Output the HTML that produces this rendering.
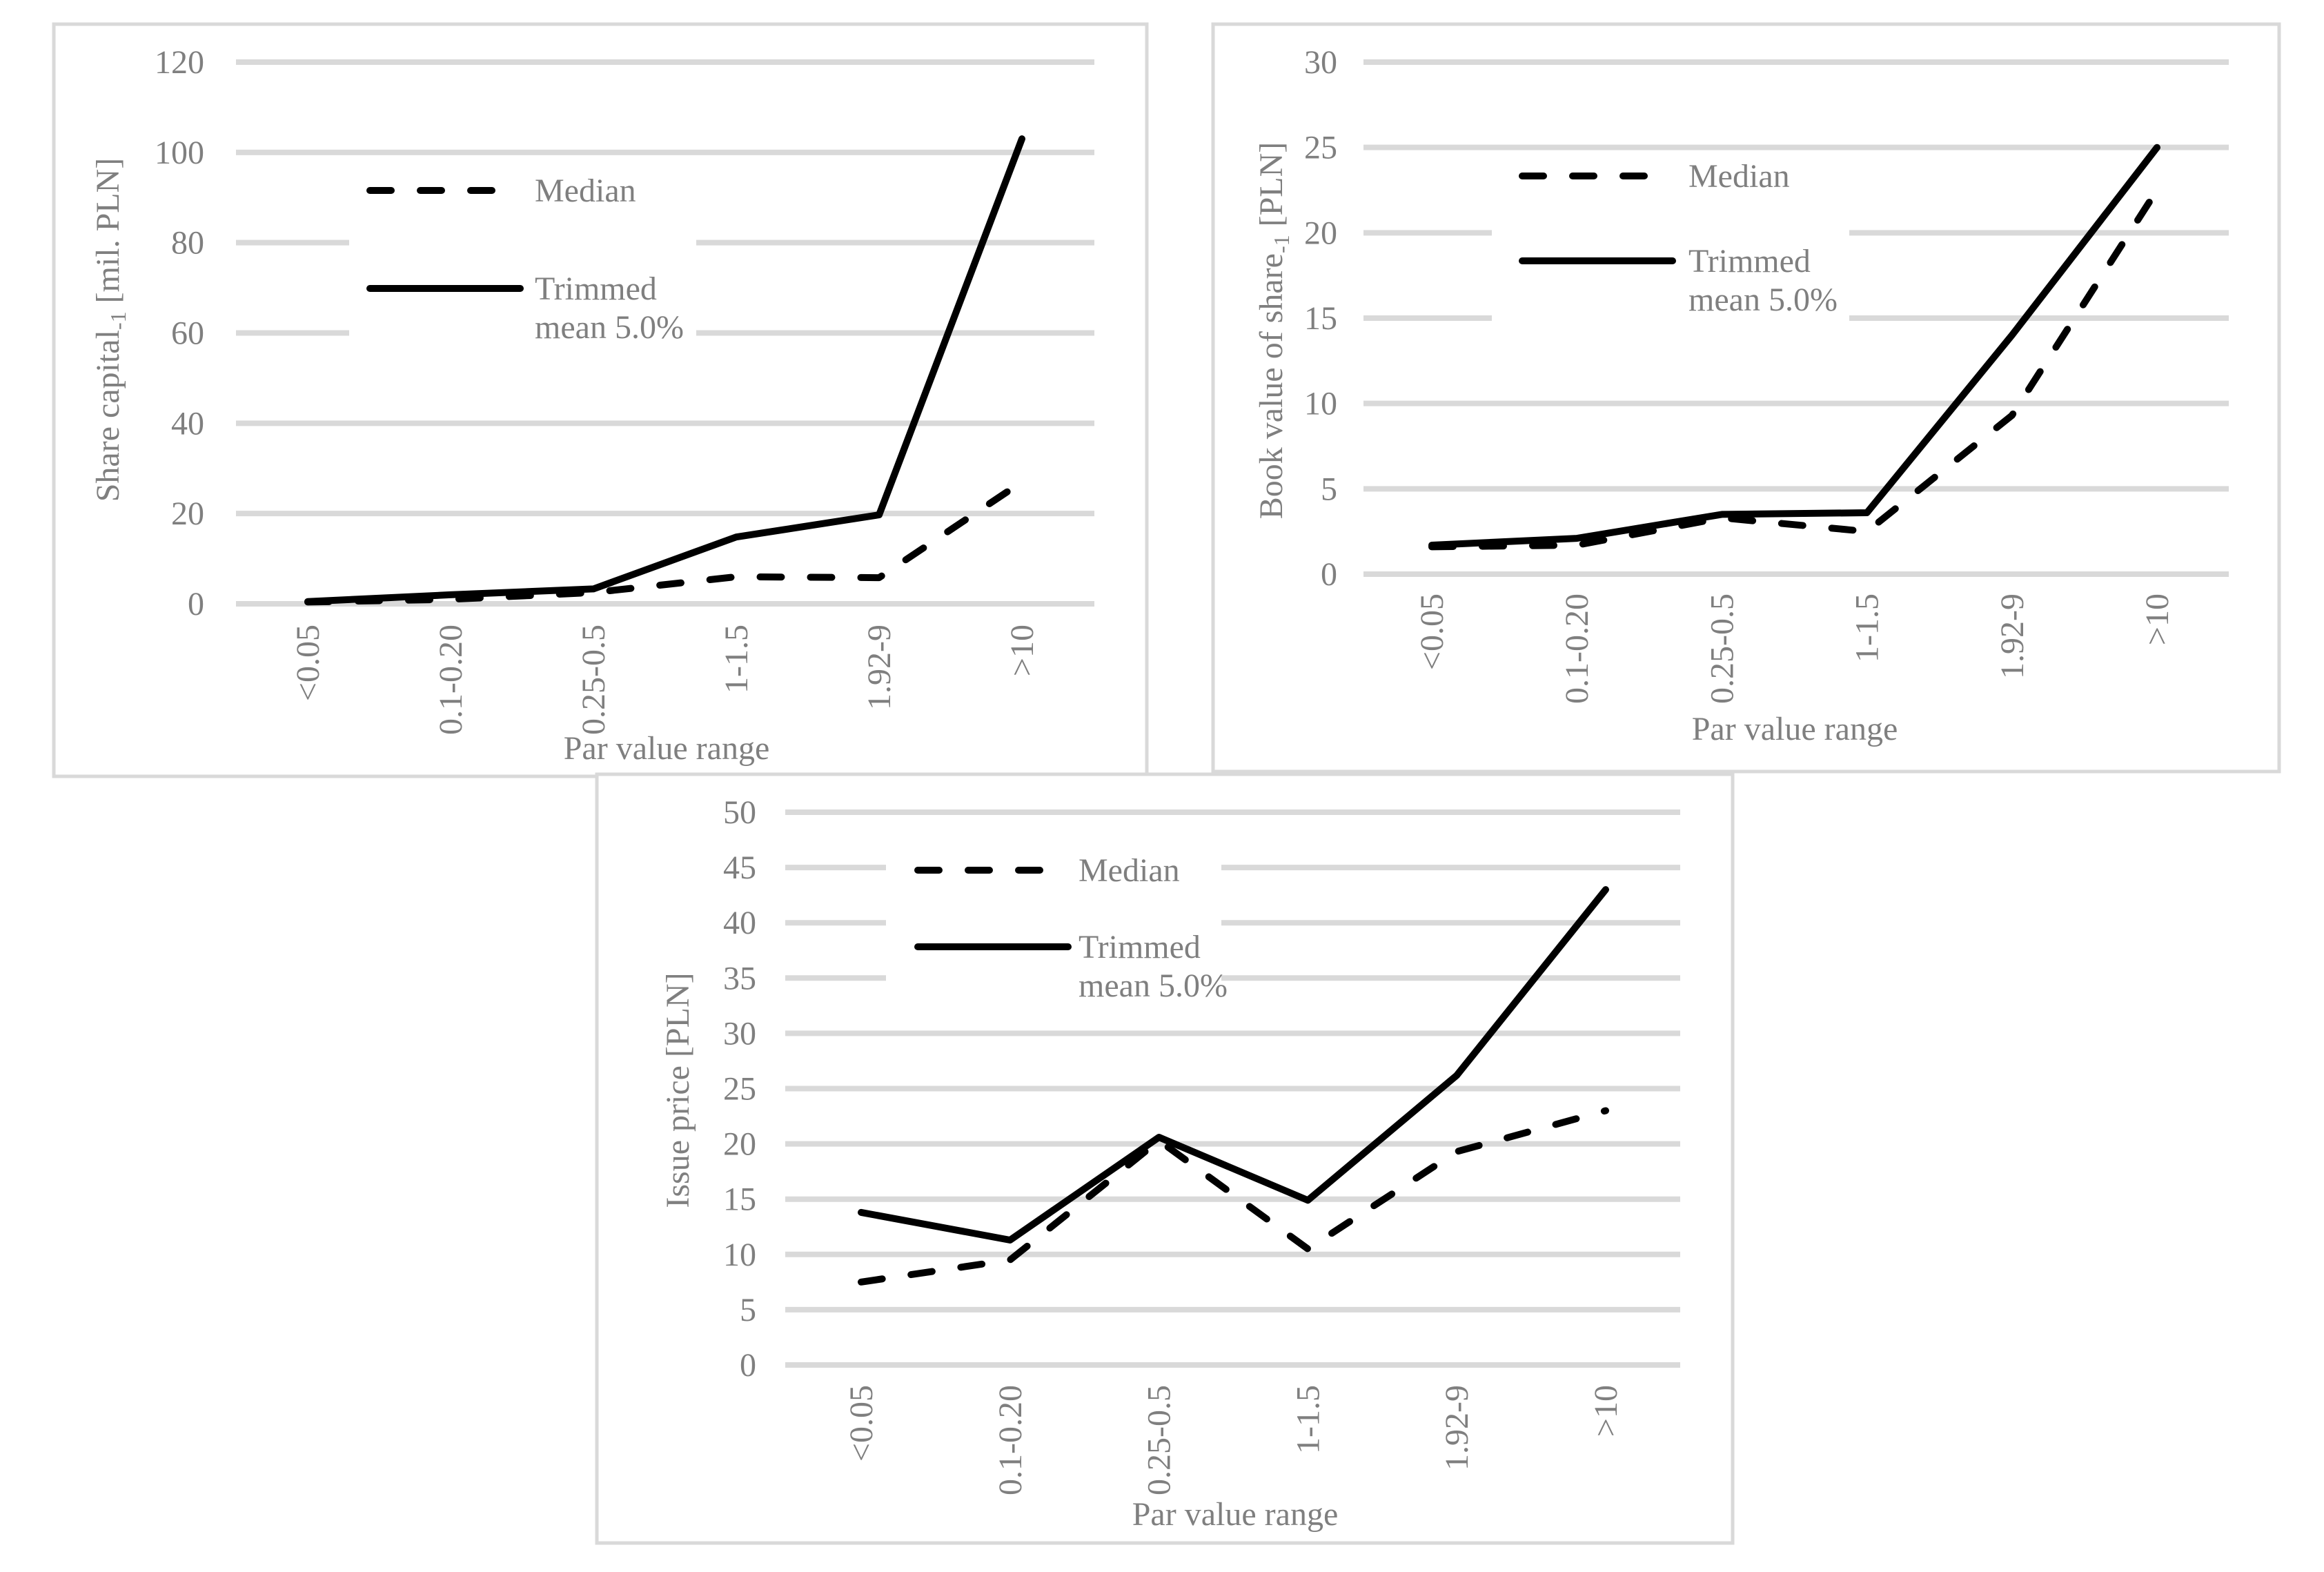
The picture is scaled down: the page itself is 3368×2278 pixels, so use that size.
<!DOCTYPE html>
<html><head><meta charset="utf-8"><style>
html,body{margin:0;padding:0;background:#fff;}
svg{display:block;}
text{font-family:"Liberation Serif","Times New Roman",serif;fill:#7f7f7f;}
</style></head><body>
<svg id="root" width="3368" height="2278" viewBox="0 0 3368 2278" xmlns="http://www.w3.org/2000/svg"></svg>
<script>
const categories = ["<0.05","0.1-0.20","0.25-0.5","1-1.5","1.92-9",">10"];
const shareMedian = [0.4, 1.0, 2.5, 6.0, 5.8, 27];
const shareTrimmed = [0.5, 2.0, 3.3, 14.8, 19.7, 103];
const shareTicks = [0,20,40,60,80,100,120];
const bookMedian = [1.6, 1.7, 3.3, 2.5, 9.3, 22.5];
const bookTrimmed = [1.7, 2.1, 3.5, 3.6, 14.0, 25.0];
const bookTicks = [0,5,10,15,20,25,30];
const issueMedian = [7.5, 9.5, 20.3, 10.5, 19.3, 23.0];
const issueTrimmed = [13.8, 11.3, 20.6, 14.9, 26.2, 43.0];
const issueTicks = [0,5,10,15,20,25,30,35,40,45,50];

const NS="http://www.w3.org/2000/svg";
const root=document.getElementById('root');
function mk(tag,attrs,parent){const e=document.createElementNS(NS,tag);for(const k in attrs)e.setAttribute(k,attrs[k]);(parent||root).appendChild(e);return e;}

function drawChart(cfg, med, trim, ticks){
  const g=mk('g',{});
  
  
  const fr=mk('rect',{x:cfg.fx,y:cfg.fy,width:cfg.fw,height:cfg.fh,fill:'#fff',stroke:'#d9d9d9','stroke-width':5},g);
  
  
  const maxV=ticks[ticks.length-1];
  const yS=v=>cfg.y0+(cfg.yTop-cfg.y0)*v/maxV;
  const xS=i=>cfg.c0+(cfg.c1-cfg.c0)*i/(categories.length-1);
  ticks.forEach(t=>{
    const l=mk('line',{x1:cfg.gx0,x2:cfg.gx1,y1:yS(t),y2:yS(t),stroke:'#d9d9d9','stroke-width':8},g);
    
    
    const tx=mk('text',{x:cfg.tickR,y:yS(t)+16,'text-anchor':'end','font-size':48},g);
    tx.textContent=t;
    
    
  });
  const lb=mk('rect',{x:cfg.lbx0,y:cfg.lby0,width:cfg.lbx1-cfg.lbx0,height:cfg.lby1-cfg.lby0,fill:'#fff'},g);
  
  
  categories.forEach((c,i)=>{
    const x=xS(i)+16, y=cfg.xlTop;
    const tx=mk('text',{x:x,y:y,'text-anchor':'end','font-size':48,transform:`rotate(-90 ${x} ${y})`},g);
    tx.textContent=c;
    
    
  });
  const xt=mk('text',{x:cfg.xtx,y:cfg.xty,'text-anchor':'middle','font-size':48},g);
  xt.textContent='Par value range';
  
  
  const yt=mk('text',{x:cfg.ytx,y:cfg.yty,'text-anchor':'middle','font-size':48,transform:`rotate(-90 ${cfg.ytx} ${cfg.yty})`},g);
  yt.innerHTML=cfg.ytitle;
  
  
  const pts=arr=>arr.map((v,i)=>xS(i).toFixed(1)+','+yS(v).toFixed(1)).join(' ');
  const pm=mk('polyline',{points:pts(med),fill:'none',stroke:'#000','stroke-width':10,'stroke-dasharray':'31 42','stroke-linecap':'round','stroke-linejoin':'round'},g);
  
  
  const pt=mk('polyline',{points:pts(trim),fill:'none',stroke:'#000','stroke-width':10,'stroke-linecap':'round','stroke-linejoin':'round'},g);
  
  
  const L=cfg.leg;
  const l1=mk('line',{x1:L.x,x2:L.x+188,y1:L.y1,y2:L.y1,stroke:'#000','stroke-width':10,'stroke-dasharray':'31 42','stroke-linecap':'round'},g);
  
  
  const t1=mk('text',{x:L.tx,y:L.y1+16,'font-size':48},g);
  t1.textContent='Median';
  
  
  const l2=mk('line',{x1:L.x,x2:L.x+218,y1:L.y2,y2:L.y2,stroke:'#000','stroke-width':10,'stroke-linecap':'round'},g);
  
  
  const t2=mk('text',{x:L.tx,y:L.y2+16,'font-size':48},g);
  t2.textContent='Trimmed';
  
  
  const t3=mk('text',{x:L.tx,y:L.y2+72,'font-size':48},g);
  t3.textContent='mean 5.0%';
  
  
}

drawChart({name:'share-capital-chart',fx:78,fy:35,fw:1584,fh:1090,y0:875,yTop:90,gx0:342,gx1:1586,c0:446,c1:1481,tickR:296,
  lbx0:506,lbx1:1009,lby0:240,lby1:520,xlTop:905,xtx:966,xty:1100,ytx:172,yty:478,
  ytitle:'Share capital<tspan font-size="32" dy="10">-1</tspan><tspan dy="-10"> [mil. PLN]</tspan>',
  leg:{x:536,y1:276,y2:418,tx:775}}, shareMedian, shareTrimmed, shareTicks);

drawChart({name:'book-value-chart',fx:1758,fy:35,fw:1545,fh:1083,y0:832,yTop:90,gx0:1976,gx1:3230,c0:2075,c1:3126,tickR:1938,
  lbx0:2162,lbx1:2680,lby0:300,lby1:520,xlTop:860,xtx:2601,xty:1072,ytx:1858,yty:479,
  ytitle:'Book value of share<tspan font-size="32" dy="10">-1</tspan><tspan dy="-10"> [PLN]</tspan>',
  leg:{x:2206,y1:255,y2:378,tx:2447}}, bookMedian, bookTrimmed, bookTicks);

drawChart({name:'issue-price-chart',fx:865,fy:1122,fw:1646,fh:1114,y0:1978,yTop:1177,gx0:1138,gx1:2435,c0:1248,c1:2327,tickR:1096,
  lbx0:1284,lbx1:1770,lby0:1232,lby1:1472,xlTop:2007,xtx:1790,xty:2210,ytx:998,yty:1580,
  ytitle:'Issue price [PLN]',
  leg:{x:1330,y1:1261,y2:1372,tx:1563}}, issueMedian, issueTrimmed, issueTicks);
</script>
</body></html>
